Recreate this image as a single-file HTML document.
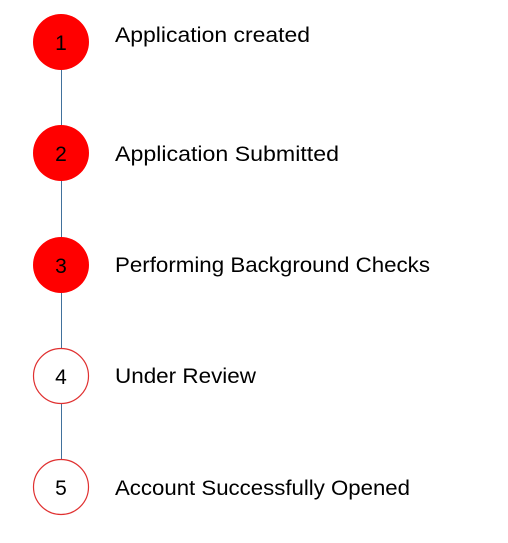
<!DOCTYPE html>
<html><head><style>
html,body{margin:0;padding:0;background:#fff;width:508px;height:543px;overflow:hidden}
svg{display:block}
text{font-family:"Liberation Sans",sans-serif}
</style></head><body>
<svg width="508" height="543" viewBox="0 0 508 543">
<line x1="61.5" y1="42" x2="61.5" y2="487" stroke="#41719c" stroke-width="1"/>
<g font-size="21" fill="#000">
<circle cx="61" cy="42" r="28" fill="#ff0000"/>
<circle cx="61" cy="153" r="28" fill="#ff0000"/>
<circle cx="61" cy="265" r="28" fill="#ff0000"/>
<circle cx="61" cy="376" r="27.5" fill="#fff" stroke="#e03030" stroke-width="1.2"/>
<circle cx="61" cy="487" r="27.5" fill="#fff" stroke="#e03030" stroke-width="1.2"/>
<g text-anchor="middle">
<text x="61" y="50">1</text>
<text x="61" y="161">2</text>
<text x="61" y="273">3</text>
<text x="61" y="384">4</text>
<text x="61" y="495">5</text>
</g>
<text x="115" y="42" textLength="195" lengthAdjust="spacingAndGlyphs">Application created</text>
<text x="115" y="161" textLength="224" lengthAdjust="spacingAndGlyphs">Application Submitted</text>
<text x="115" y="272" textLength="315" lengthAdjust="spacingAndGlyphs">Performing Background Checks</text>
<text x="115" y="383" textLength="141" lengthAdjust="spacingAndGlyphs">Under Review</text>
<text x="115" y="495" textLength="295" lengthAdjust="spacingAndGlyphs">Account Successfully Opened</text>
</g>
</svg>
</body></html>
